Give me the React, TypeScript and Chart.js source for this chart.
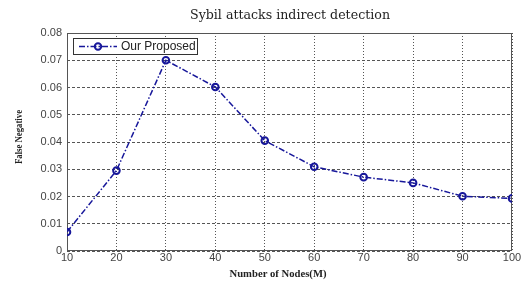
import React, { useEffect, useRef } from "react";
import { Chart, registerables } from "chart.js";

Chart.register(...registerables);

const nodes = [10, 20, 30, 40, 50, 60, 70, 80, 90, 100];
const falseNegative = [0.007, 0.0295, 0.07, 0.0602, 0.0405, 0.0309, 0.0271, 0.025, 0.0201, 0.0193];
const seriesName = "Our Proposed";
const chartTitle = "Sybil attacks indirect detection";
const xTitle = "Number of Nodes(M)";
const yTitle = "False Negative";

const LINE_COLOR = "#17179a";
const LINE_DASH = [6, 2, 1.5, 2];

function fitText(ctx: CanvasRenderingContext2D, text: string, x: number, y: number, width: number) {
  const w = ctx.measureText(text).width;
  ctx.save();
  ctx.translate(x, y);
  ctx.scale(width / w, 1);
  ctx.fillText(text, 0, 0);
  ctx.restore();
}

const decorPlugin = {
  id: "decor",
  beforeDatasetsDraw(chart: any) {
    const { ctx, chartArea: a } = chart;
    ctx.save();
    ctx.strokeStyle = "#555";
    ctx.lineWidth = 1;
    ctx.setLineDash([]);
    ctx.strokeRect(a.left + 0.5, a.top + 0.5, a.right - a.left - 1, a.bottom - a.top - 1);
    ctx.restore();
  },
  afterDraw(chart: any) {
    const { ctx } = chart;
    ctx.save();
    ctx.fillStyle = "#222";
    ctx.textAlign = "center";
    ctx.textBaseline = "middle";
    // title
    ctx.font = "12px 'DejaVu Serif'";
    fitText(ctx, chartTitle, 290, 16, 200);
    // x title
    ctx.font = "bold 11px 'Liberation Serif'";
    fitText(ctx, xTitle, 278, 274, 97);
    // y title (condensed)
    ctx.save();
    ctx.translate(19, 137);
    ctx.rotate(-Math.PI / 2);
    ctx.font = "bold 11px 'Liberation Serif'";
    fitText(ctx, yTitle, 0, 0, 54);
    ctx.restore();

    // legend box
    const lx = 73, ly = 38, lw = 124, lh = 16;
    ctx.fillStyle = "#fff";
    ctx.fillRect(lx, ly, lw, lh);
    ctx.strokeStyle = "#333";
    ctx.lineWidth = 1;
    ctx.strokeRect(lx + 0.5, ly + 0.5, lw, lh);
    const cy = ly + lh / 2 + 0.5;
    ctx.strokeStyle = LINE_COLOR;
    ctx.lineWidth = 1.5;
    ctx.setLineDash(LINE_DASH);
    ctx.beginPath();
    ctx.moveTo(79, cy);
    ctx.lineTo(117, cy);
    ctx.stroke();
    ctx.setLineDash([]);
    ctx.lineWidth = 2;
    ctx.beginPath();
    ctx.arc(98, cy, 3.2, 0, Math.PI * 2);
    ctx.stroke();
    ctx.fillStyle = "#222";
    ctx.font = "12px 'Liberation Sans'";
    ctx.textAlign = "left";
    ctx.textBaseline = "middle";
    ctx.fillText(seriesName, 121, cy);
    ctx.restore();
  },
};

export default function App() {
  const ref = useRef<HTMLCanvasElement>(null);
  useEffect(() => {
    if (!ref.current) return;
    const chart = new Chart(ref.current, {
      type: "line",
      data: {
        datasets: [
          {
            label: seriesName,
            data: nodes.map((x, i) => ({ x, y: falseNegative[i] })),
            borderColor: LINE_COLOR,
            borderWidth: 1.5,
            borderDash: LINE_DASH,
            pointRadius: 3.3,
            pointBorderWidth: 2,
            pointBorderColor: LINE_COLOR,
            pointBackgroundColor: "rgba(0,0,0,0)",
            fill: false,
            tension: 0,
          },
        ],
      },
      options: {
        animation: false,
        responsive: false,
        maintainAspectRatio: false,
        layout: { padding: { top: 33, right: 14, left: 0, bottom: 0 } },
        plugins: { legend: { display: false }, title: { display: false }, tooltip: { enabled: false } },
        scales: {
          x: {
            type: "linear",
            min: 10,
            max: 100,
            afterFit: (s: any) => { s.height = 30; },
            ticks: {
              stepSize: 10,
              padding: 0,
              color: "#444",
              font: { family: "'Liberation Sans'", size: 11 },
            },
            grid: { color: "#555", lineWidth: 1, drawTicks: false },
            border: { display: false, dash: [1, 2] },
          },
          y: {
            min: 0,
            max: 0.08,
            afterFit: (s: any) => { s.width = 67; },
            ticks: {
              stepSize: 0.01,
              padding: 5,
              color: "#444",
              font: { family: "'Liberation Sans'", size: 11 },
              callback: (v: any) => (Number(v) === 0 ? "0" : Number(v).toFixed(2)),
            },
            grid: { color: "#555", lineWidth: 1, drawTicks: false },
            border: { display: false, dash: [3, 2] },
          },
        },
      },
      plugins: [decorPlugin],
    });
    return () => chart.destroy();
  }, []);
  return (
    <div style={{ position: "absolute", left: 0, top: 0, width: 526, height: 281, background: "#fff" }}>
      <canvas ref={ref} width={526} height={281} style={{ display: "block", width: 526, height: 281 }} />
    </div>
  );
}
